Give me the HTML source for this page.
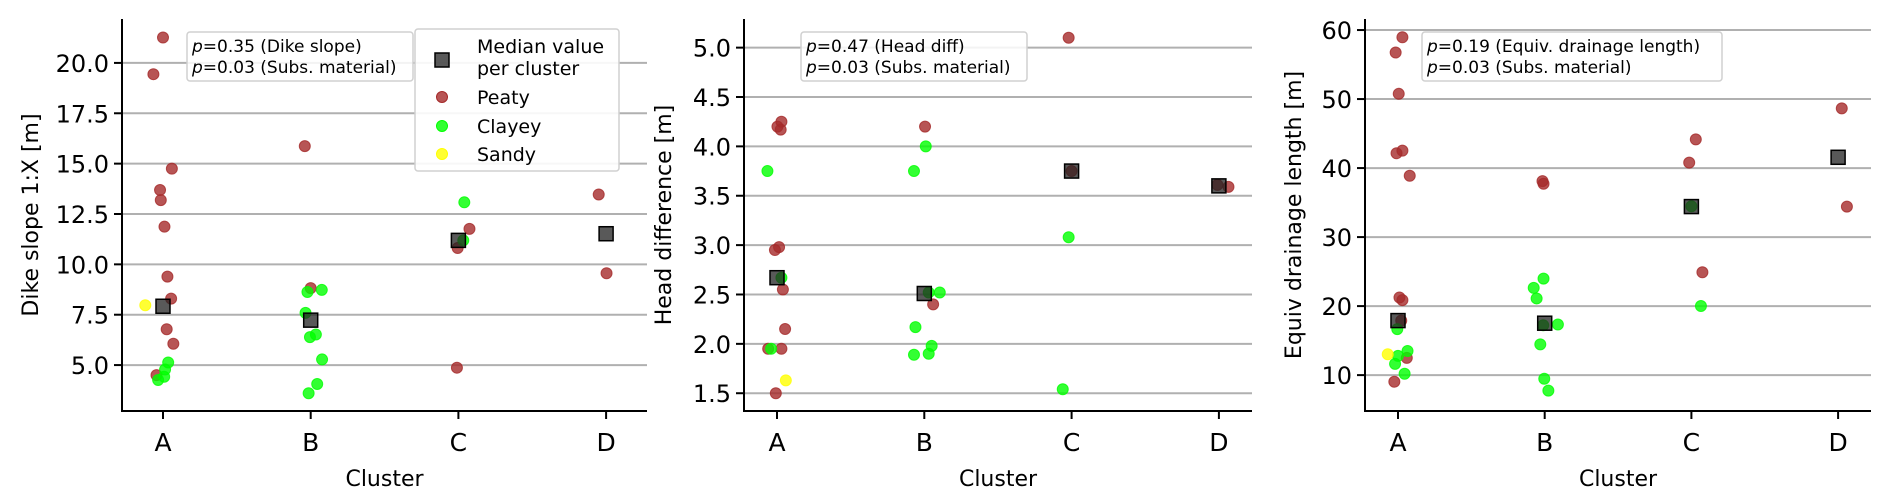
<!DOCTYPE html>
<html><head><meta charset="utf-8"><style>
html,body{margin:0;padding:0;background:#fff;}
svg{display:block;font-family:"DejaVu Sans","Liberation Sans",sans-serif;}
</style></head><body>
<svg id="chart" width="1892" height="504" viewBox="0 0 1892 504" xmlns="http://www.w3.org/2000/svg"></svg>
<script>
const categories = ['A','B','C','D'];

// Panel 1: Dike slope
const p1Ticks = [5.0, 7.5, 10.0, 12.5, 15.0, 17.5, 20.0];
const p1PeatyCat = [0,0,0,0,0,0,0,0,0,0,0, 1,1, 2,2,2, 3,3];
const p1PeatyVal = [21.26,19.44,14.75,13.69,13.19,11.87,9.39,8.30,6.78,6.06,4.50, 15.87,8.82, 11.76,10.81,4.87, 13.47,9.56];
const p1PeatyJit = [0,-0.065,0.06,-0.02,-0.015,0.01,0.03,0.055,0.025,0.07,-0.044, -0.04,0, 0.075,-0.005,-0.01, -0.05,0.003];
const p1ClayCat = [0,0,0,0, 1,1,1,1,1,1,1,1, 2,2];
const p1ClayVal = [4.26,4.42,5.13,4.78, 8.63,8.73,7.59,6.39,6.52,5.28,4.06,3.60, 13.08,11.19];
const p1ClayJit = [-0.033,0.008,0.035,0.014, -0.022,0.075,-0.035,-0.005,0.035,0.077,0.044,-0.014, 0.04,0.033];
const p1SandCat = [0];
const p1SandVal = [7.97];
const p1SandJit = [-0.12];
const p1Median = [7.92, 7.23, 11.19, 11.52];

// Panel 2: Head difference
const p2Ticks = [1.5, 2.0, 2.5, 3.0, 3.5, 4.0, 4.5, 5.0];
const p2PeatyCat = [0,0,0,0,0,0,0,0,0,0, 1,1, 2,2, 3,3];
const p2PeatyVal = [4.25,4.20,4.17,2.98,2.95,2.55,2.15,1.95,1.95,1.50, 4.20,2.40, 5.10,3.75, 3.61,3.59];
const p2PeatyJit = [0.03,0.003,0.025,0.014,-0.014,0.04,0.055,-0.06,0.03,-0.008, 0.005,0.06, -0.02,0, -0.01,0.065];
const p2ClayCat = [0,0,0, 1,1,1,1,1,1,1,1, 2,2];
const p2ClayVal = [3.75,2.67,1.95, 4.00,3.75,2.52,2.52,2.17,1.98,1.89,1.90, 3.08,1.54];
const p2ClayJit = [-0.065,0.03,-0.04, 0.01,-0.07,0.03,0.105,-0.06,0.05,-0.07,0.03, -0.02,-0.06];
const p2SandCat = [0];
const p2SandVal = [1.63];
const p2SandJit = [0.06];
const p2Median = [2.67, 2.51, 3.75, 3.60];

// Panel 3: Equiv drainage length
const p3Ticks = [10, 20, 30, 40, 50, 60];
const p3PeatyCat = [0,0,0,0,0,0,0,0,0,0,0, 1,1, 2,2,2, 3,3];
const p3PeatyVal = [58.95,56.74,50.76,42.14,42.52,38.88,21.25,20.87,17.90,12.49,9.04, 38.11,37.73, 44.15,40.79,24.9, 48.65,34.42];
const p3PeatyJit = [0.03,-0.016,0.005,-0.01,0.03,0.08,0.01,0.03,0.022,0.06,-0.025, -0.015,-0.008, 0.03,-0.015,0.075, 0.025,0.06];
const p3ClayCat = [0,0,0,0,0, 1,1,1,1,1,1,1,1, 2,2];
const p3ClayVal = [16.66,12.78,13.50,11.63,10.19, 23.98,22.64,21.11,17.23,17.33,14.46,9.47,7.75, 34.47,20.01];
const p3ClayJit = [-0.005,0,0.065,-0.02,0.045, -0.008,-0.075,-0.055,-0.01,0.09,-0.03,-0.003,0.025, 0,0.065];
const p3SandCat = [0];
const p3SandVal = [13.02];
const p3SandJit = [-0.07];
const p3Median = [17.90, 17.52, 34.42, 41.56];

const NS = 'http://www.w3.org/2000/svg';
const svg = document.getElementById('chart');
function mk(tag, attrs, parent, text){
  const e = document.createElementNS(NS, tag);
  for (const k in attrs) e.setAttribute(k, attrs[k]);
  if (text !== undefined) e.textContent = text;
  (parent||svg).appendChild(e);
  return e;
}

const TOP = 19, BOTTOM = 411;
function drawPanel(cfg){
  const g = mk('g', {});
  
  
  const yScale = v => BOTTOM - (v - cfg.ymin) / (cfg.ymax - cfg.ymin) * (BOTTOM - TOP);
  const xScale = (c, j) => cfg.x0 + (c + (j||0)) * cfg.step;
  cfg.ticks.forEach(t => {
    const y = yScale(t);
    const gl = mk('line', {x1: cfg.left, x2: cfg.right, y1: y, y2: y, stroke: '#b0b0b0', 'stroke-width': 2}, g);
    
    
    mk('line', {x1: cfg.left - 8, x2: cfg.left, y1: y, y2: y, stroke: '#000', 'stroke-width': 2}, g);
    const tl = mk('text', {x: cfg.left - 13, y: y + 9, 'text-anchor': 'end', 'font-size': 24, fill: '#000'}, g, cfg.fmt(t));
    
    
  });
  categories.forEach((c, i) => {
    const x = xScale(i, 0);
    mk('line', {x1: x, x2: x, y1: BOTTOM, y2: BOTTOM + 8, stroke: '#000', 'stroke-width': 2}, g);
    const tl = mk('text', {x: x, y: BOTTOM + 40, 'text-anchor': 'middle', 'font-size': 25, fill: '#000'}, g, c);
    
    
  });
  mk('line', {x1: cfg.left, x2: cfg.left, y1: TOP, y2: BOTTOM + 1, stroke: '#000', 'stroke-width': 2}, g);
  mk('line', {x1: cfg.left - 1, x2: cfg.right, y1: BOTTOM, y2: BOTTOM, stroke: '#000', 'stroke-width': 2}, g);
  const xl = mk('text', {x: (cfg.left + cfg.right) / 2, y: 486, 'text-anchor': 'middle', 'font-size': 22, fill: '#000'}, g, 'Cluster');
  
  
  const yl = mk('text', {x: 0, y: 0, 'text-anchor': 'middle', 'font-size': 22, fill: '#000', transform: `translate(${cfg.ylabX},${(TOP + BOTTOM) / 2}) rotate(-90)`}, g, cfg.ylabel);
  
  
  function pts(cats, vals, jits, fill, stroke, name){
    cats.forEach((c, i) => {
      const p = mk('circle', {cx: xScale(c, jits[i]), cy: yScale(vals[i]), r: 5.5, fill: fill, stroke: stroke, 'stroke-width': 1, 'fill-opacity': 0.8, 'stroke-opacity': 0.8}, g);
      
      
    });
  }
  pts(cfg.peatyCat, cfg.peatyVal, cfg.peatyJit, '#a52a2a', '#a52a2a', 'peaty-point');
  pts(cfg.clayCat, cfg.clayVal, cfg.clayJit, '#00ff00', '#00ff00', 'clayey-point');
  pts(cfg.sandCat, cfg.sandVal, cfg.sandJit, '#ffff00', '#ffff00', 'sandy-point');
  cfg.median.forEach((m, i) => {
    const s = mk('rect', {x: xScale(i, 0) - 7, y: yScale(m) - 7, width: 14, height: 14, fill: '#222', 'fill-opacity': 0.75, stroke: '#000', 'stroke-width': 1.5}, g);
    
    
  });
  const b = cfg.box;
  const bg = mk('g', {}, g);
  
  
  mk('rect', {x: b[0], y: 32, width: b[1] - b[0], height: 49, rx: 3, fill: '#fff', 'fill-opacity': 0.85, stroke: '#d0d0d0', 'stroke-width': 1.5}, bg);
  const t1 = mk('text', {x: b[0] + 5, y: 52, 'font-size': 17, fill: '#000'}, bg);
  mk('tspan', {'font-style': 'italic'}, t1, 'p');
  mk('tspan', {}, t1, cfg.p1);
  const t2 = mk('text', {x: b[0] + 5, y: 73, 'font-size': 17, fill: '#000'}, bg);
  mk('tspan', {'font-style': 'italic'}, t2, 'p');
  mk('tspan', {}, t2, '=0.03 (Subs. material)');
  return g;
}

drawPanel({name: 'dike-slope-panel', left: 122, right: 647, x0: 163, step: 147.7, ymin: 2.72, ymax: 22.18,
  ticks: p1Ticks, fmt: t => t.toFixed(1), ylabel: 'Dike slope 1:X [m]', ylabX: 38,
  peatyCat: p1PeatyCat, peatyVal: p1PeatyVal, peatyJit: p1PeatyJit,
  clayCat: p1ClayCat, clayVal: p1ClayVal, clayJit: p1ClayJit,
  sandCat: p1SandCat, sandVal: p1SandVal, sandJit: p1SandJit, median: p1Median,
  box: [187, 413], p1: '=0.35 (Dike slope)'});
drawPanel({name: 'head-difference-panel', left: 744, right: 1252, x0: 777, step: 147.3, ymin: 1.32, ymax: 5.29,
  ticks: p2Ticks, fmt: t => t.toFixed(1), ylabel: 'Head difference [m]', ylabX: 671,
  peatyCat: p2PeatyCat, peatyVal: p2PeatyVal, peatyJit: p2PeatyJit,
  clayCat: p2ClayCat, clayVal: p2ClayVal, clayJit: p2ClayJit,
  sandCat: p2SandCat, sandVal: p2SandVal, sandJit: p2SandJit, median: p2Median,
  box: [801, 1027], p1: '=0.47 (Head diff)'});
drawPanel({name: 'drainage-length-panel', left: 1365, right: 1871, x0: 1398, step: 146.7, ymin: 4.8, ymax: 61.6,
  ticks: p3Ticks, fmt: t => String(t), ylabel: 'Equiv drainage length [m]', ylabX: 1301,
  peatyCat: p3PeatyCat, peatyVal: p3PeatyVal, peatyJit: p3PeatyJit,
  clayCat: p3ClayCat, clayVal: p3ClayVal, clayJit: p3ClayJit,
  sandCat: p3SandCat, sandVal: p3SandVal, sandJit: p3SandJit, median: p3Median,
  box: [1422, 1722], p1: '=0.19 (Equiv. drainage length)'});

const lg = mk('g', {});


mk('rect', {x: 415, y: 29, width: 204, height: 142, rx: 3, fill: '#fff', 'fill-opacity': 0.9, stroke: '#d0d0d0', 'stroke-width': 1.5}, lg);
mk('rect', {x: 435, y: 53, width: 14, height: 14, fill: '#222', 'fill-opacity': 0.75, stroke: '#000', 'stroke-width': 1.5}, lg);
mk('text', {x: 477, y: 53, 'font-size': 19, fill: '#000'}, lg, 'Median value');
mk('text', {x: 477, y: 75, 'font-size': 19, fill: '#000'}, lg, 'per cluster');
[['Peaty', '#a52a2a', 97], ['Clayey', '#00ff00', 126], ['Sandy', '#ffff00', 154]].forEach(e => {
  const le = mk('g', {}, lg);
  
  
  mk('circle', {cx: 442, cy: e[2], r: 5.5, fill: e[1], 'fill-opacity': 0.8, stroke: e[1]}, le);
  mk('text', {x: 477, y: e[2] + 7, 'font-size': 19, fill: '#000'}, le, e[0]);
});
</script>
</body></html>
